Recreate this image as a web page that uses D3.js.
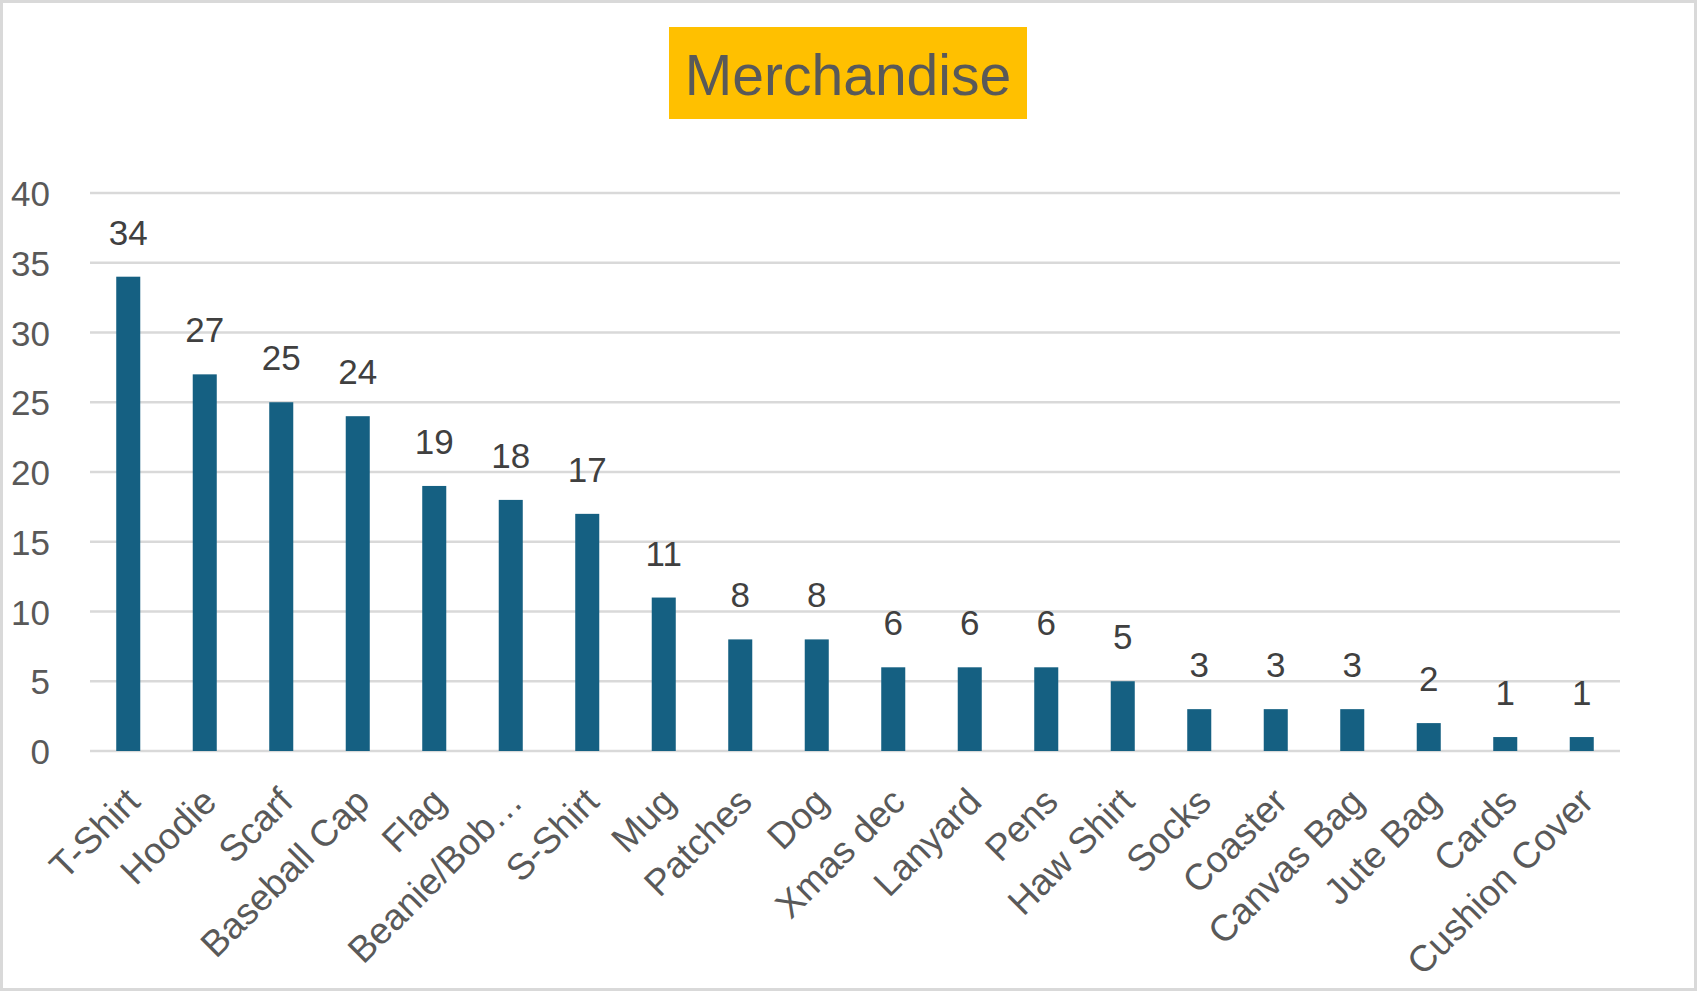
<!DOCTYPE html>
<html>
<head>
<meta charset="utf-8">
<script src="https://cdn.jsdelivr.net/npm/d3@7"></script>
<style>
  html, body { margin: 0; padding: 0; background: #fff; }
  svg { display: block; font-family: "Liberation Sans", Arial, sans-serif; }
</style>
</head>
<body>
<svg id="chart" width="1698" height="993"></svg>
<script>
const categories = ["T-Shirt", "Hoodie", "Scarf", "Baseball Cap", "Flag", "Beanie/Bob\u2026", "S-Shirt",
  "Mug", "Patches", "Dog", "Xmas dec", "Lanyard", "Pens", "Haw Shirt", "Socks", "Coaster",
  "Canvas Bag", "Jute Bag", "Cards", "Cushion Cover"];
const counts = [34, 27, 25, 24, 19, 18, 17, 11, 8, 8, 6, 6, 6, 5, 3, 3, 3, 2, 1, 1];
const yTicks = [0, 5, 10, 15, 20, 25, 30, 35, 40];
const title = "Merchandise";

const svg = d3.select("#chart");
const W = 1698, H = 993;
const plotLeft = 90, plotRight = 1620, plotTop = 193, plotBottom = 751;

// outer frame
svg.append("rect")
  .attr("x", 1.5).attr("y", 1.5)
  .attr("width", W - 4).attr("height", H - 5)
  .attr("fill", "#fff")
  .attr("stroke", "#d9d9d9")
  .attr("stroke-width", 3);

const x = d3.scaleBand().domain(categories).range([plotLeft, plotRight]).paddingInner(0.686).paddingOuter(0.343);
const y = d3.scaleLinear().domain([0, 40]).range([plotBottom, plotTop]);

// gridlines
svg.append("g")
  .selectAll("line")
  .data(yTicks)
  .join("line")
  .attr("x1", plotLeft).attr("x2", plotRight)
  .attr("y1", d => y(d)).attr("y2", d => y(d))
  .attr("stroke", "#d9d9d9")
  .attr("stroke-width", 2.5);

// y axis labels
const yAxis = d3.axisLeft(y).tickValues(yTicks).tickSize(0).tickPadding(0);
svg.append("g")
  .attr("transform", `translate(50,0)`)
  .call(yAxis)
  .call(g => g.select(".domain").remove())
  .selectAll("text")
  .attr("font-size", 35)
  .attr("font-family", "Liberation Sans, Arial, sans-serif")
  .attr("fill", "#595959")
  .attr("dy", "0.36em");

// bars
svg.append("g")
  .selectAll("rect")
  .data(counts)
  .join("rect")
  .attr("x", (d, i) => x(categories[i]))
  .attr("y", d => y(d))
  .attr("width", x.bandwidth())
  .attr("height", d => y(0) - y(d))
  .attr("fill", "#156082");

// data labels
svg.append("g")
  .selectAll("text")
  .data(counts)
  .join("text")
  .attr("x", (d, i) => x(categories[i]) + x.bandwidth() / 2)
  .attr("y", d => y(d) - 32)
  .attr("text-anchor", "middle")
  .attr("font-size", 35)
  .attr("fill", "#404040")
  .text(d => d);

// category labels, rotated
const xAxis = d3.axisBottom(x).tickSize(0).tickPadding(0);
svg.append("g")
  .attr("transform", `translate(0,${plotBottom})`)
  .call(xAxis)
  .call(g => g.select(".domain").remove())
  .selectAll("text")
  .attr("font-size", 37)
  .attr("font-family", "Liberation Sans, Arial, sans-serif")
  .attr("fill", "#595959")
  .attr("text-anchor", "end")
  .attr("dy", null)
  .attr("y", 0)
  .attr("transform", "translate(5,44) rotate(-45)")
  .attr("dominant-baseline", "central");

// title
svg.append("rect")
  .attr("x", 669).attr("y", 27)
  .attr("width", 358).attr("height", 92)
  .attr("fill", "#ffc000");
svg.append("text")
  .attr("x", 848).attr("y", 95)
  .attr("text-anchor", "middle")
  .attr("font-size", 57)
  .attr("fill", "#595959")
  .text(title);
</script>
</body>
</html>
